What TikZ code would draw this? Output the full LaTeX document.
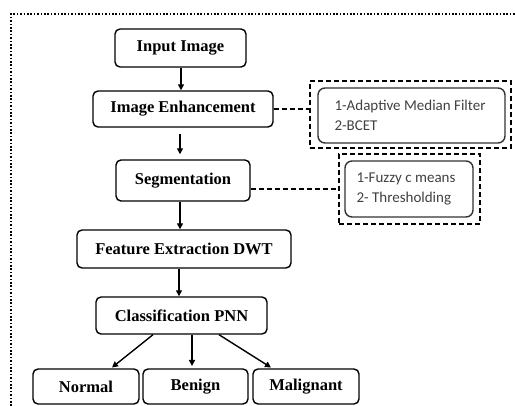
\documentclass[tikz,border=0pt]{standalone}
\usepackage{fontspec}
\setmainfont{Liberation Serif}
\newfontfamily\calfont{Carlito}
\usetikzlibrary{arrows.meta}
\begin{document}
\begin{tikzpicture}[x=1pt,y=-1pt,
  mainbox/.style={draw, line width=1.4pt, rounded corners=5pt, inner sep=0pt, font=\fontsize{16.5}{19}\selectfont\bfseries},
  outerbox/.style={draw, line width=2pt, dash pattern=on 5pt off 3pt, inner sep=0pt},
  innerbox/.style={draw=black!80, line width=1.4pt, rounded corners=7pt, inner sep=0pt, align=left, text=black!75, font=\calfont\fontsize{15}{19.5}\selectfont},
  arr/.style={line width=1.4pt, -{Triangle[length=6pt,width=6pt]}},
  conn/.style={line width=2pt, dash pattern=on 5pt off 3pt}
]
\useasboundingbox (0,0) rectangle (515,406);
\draw[line width=2pt, dash pattern=on 1.6pt off 1.8pt] (11,406) coordinate (fbl) -- (11,14) coordinate (ftl) -- (515,14) coordinate (ftr);

\node[mainbox, minimum width=131pt, minimum height=38pt] (in) at (180.5,48) {Input Image};
\node[mainbox, minimum width=180pt, minimum height=36pt] (enh) at (183,109) {Image Enhancement};
\node[mainbox, minimum width=134pt, minimum height=41pt] (seg) at (183,180.5) {Segmentation};
\node[mainbox, minimum width=214pt, minimum height=38pt] (feat) at (184,249) {Feature Extraction DWT};
\node[mainbox, minimum width=171pt, minimum height=37pt] (cls) at (181.5,315.5) {Classification PNN};
\node[mainbox, minimum width=106pt, minimum height=35pt] (nor) at (86,386.5) {Normal};
\node[mainbox, minimum width=105pt, minimum height=35pt] (ben) at (195.5,386.5) {Benign};
\node[mainbox, minimum width=106pt, minimum height=35pt] (mal) at (306,386.5) {Malignant};

\node[outerbox, minimum width=201pt, minimum height=67pt] (o1) at (410.5,114.5) {};
\node[innerbox, minimum width=187pt, minimum height=55pt] (i1) at (411.5,115.5) {\hspace*{-3pt}1-Adaptive Median Filter\\\hspace*{-3pt}2-BCET};
\node[outerbox, minimum width=141pt, minimum height=70pt] (o2) at (409.5,189) {};
\node[innerbox, minimum width=128pt, minimum height=56pt] (i2) at (409,189) {\hspace*{-6pt}1-Fuzzy c means\\\hspace*{-6pt}2- Thresholding};

\draw[arr] (in.south -| 181,0) -- (enh.north -| 181,0);
\draw[arr, shorten <=6pt, shorten >=5pt] (enh.south -| 180,0) -- (seg.north -| 180,0);
\draw[arr] (seg.south -| 180,0) -- (feat.north -| 180,0);
\draw[arr] (feat.south -| 179,0) -- (cls.north -| 179,0);
\draw[arr] (cls.south -| 153,0) -- (112,367.5);
\draw[arr] (cls.south -| 192,0) -- (192,366);
\draw[arr] (cls.south -| 219,0) -- (271,367.5);

\draw[conn] (enh.east) -- (enh.east -| o1.west);
\draw[conn] (seg.east |- o2.west) -- (o2.west);
\end{tikzpicture}
\end{document}
